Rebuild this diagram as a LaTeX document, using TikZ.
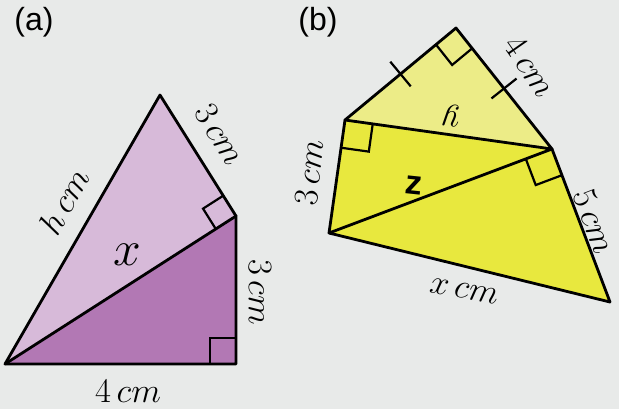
\documentclass[tikz,border=0pt]{standalone}
\usepackage{fontspec}
\newfontfamily\labelfont{Liberation Sans}
\usetikzlibrary{calc}
\definecolor{bg}{RGB}{232,234,233}
\definecolor{lpurple}{RGB}{215,186,217}
\definecolor{dpurple}{RGB}{178,120,180}
\definecolor{pyellow}{RGB}{236,236,135}
\definecolor{syellow}{RGB}{232,232,62}
\begin{document}
\begin{tikzpicture}[x=0.5pt,y=-0.5pt,
  edge/.style={line width=1.4pt, line join=round, line cap=round},
  ra/.style={line width=1.1pt},
  lbl/.style={font=\fontsize{18}{21}\selectfont, inner sep=0pt},
  big/.style={font=\fontsize{23}{26}\selectfont, inner sep=0pt},
  tag/.style={font=\labelfont\fontsize{16}{19}\selectfont, inner sep=0pt}]
\fill[bg] (0,0) rectangle (619,409);
\useasboundingbox (0,0) rectangle (619,409);
% ---------- (a)
\coordinate (A) at (5,364);
\coordinate (B) at (236,364);
\coordinate (C) at (236,216);
\coordinate (D) at (160,95);
\fill[lpurple] (A) -- (D) -- (C) -- cycle;
\fill[dpurple] (A) -- (C) -- (B) -- cycle;
\draw[edge] (A) -- (D) -- (C) -- (B) -- cycle;
\draw[edge] (A) -- (C);
\coordinate (c1) at ($(C)!12pt!(D)$);
\coordinate (c2) at ($(C)!12pt!(A)$);
\draw[ra] (c1) -- ($(c1)+(c2)-(C)$) -- (c2);
\coordinate (b1) at ($(B)!13pt!(A)$);
\coordinate (b2) at ($(B)!13pt!(C)$);
\draw[ra] (b1) -- ($(b1)+(b2)-(B)$) -- (b2);
\node[tag] (la) at (34,22) {(a)};
\node[lbl, rotate=60] (lh) at (64,201) {$h\,cm$};
\node[lbl, rotate=-58] (l3a) at (220,134) {$3\,cm$};
\node[big] (lx) at (127,255) {$x$};
\node[lbl, rotate=-90] (l3b) at (260,292) {$3\,cm$};
\node[lbl] (l4a) at (128,391) {$4\,cm$};
% ---------- (b)
\coordinate (P) at (456,28);
\coordinate (Q) at (345,120);
\coordinate (R) at (552,149);
\coordinate (S) at (329,233);
\coordinate (T) at (610,302);
\fill[pyellow] (P) -- (Q) -- (R) -- cycle;
\fill[syellow] (Q) -- (R) -- (T) -- (S) -- cycle;
\draw[edge] (P) -- (Q) -- (S) -- (T) -- (R) -- cycle;
\draw[edge] (Q) -- (R) -- (S);
\coordinate (p1) at ($(P)!13pt!(Q)$);
\coordinate (p2) at ($(P)!13pt!(R)$);
\draw[ra] (p1) -- ($(p1)+(p2)-(P)$) -- (p2);
\coordinate (q1) at ($(Q)!14pt!(R)$);
\coordinate (q2) at ($(Q)!14pt!(S)$);
\draw[ra] (q1) -- ($(q1)+(q2)-(Q)$) -- (q2);
\coordinate (r1) at ($(R)!14pt!(S)$);
\coordinate (r2) at ($(R)!14pt!(T)$);
\draw[ra] (r1) -- ($(r1)+(r2)-(R)$) -- (r2);
\coordinate (m1) at ($(P)!0.5!(Q)$);
\coordinate (m2) at ($(P)!0.5!(R)$);
\draw[ra] ($(m1)!8pt!90:(P)$) -- ($(m1)!8pt!-90:(P)$);
\draw[ra] ($(m2)!8pt!90:(P)$) -- ($(m2)!8pt!-90:(P)$);
\node[tag] (lb) at (318,22) {(b)};
\node[lbl, rotate=-55] (l4b) at (530,66) {$4\,cm$};
\node[lbl, rotate=175] (ly) at (451,116) {$y$};
\node[lbl, rotate=84] (l3c) at (309,173) {$3\,cm$};
\node[tag, font=\labelfont\bfseries\fontsize{17}{19}\selectfont, rotate=-6] (lz) at (414,185) {z};
\node[lbl, rotate=-69] (l5) at (594,221) {$5\,cm$};
\node[lbl, rotate=-10] (lxc) at (464,291) {$x\,cm$};
\end{tikzpicture}
\end{document}
